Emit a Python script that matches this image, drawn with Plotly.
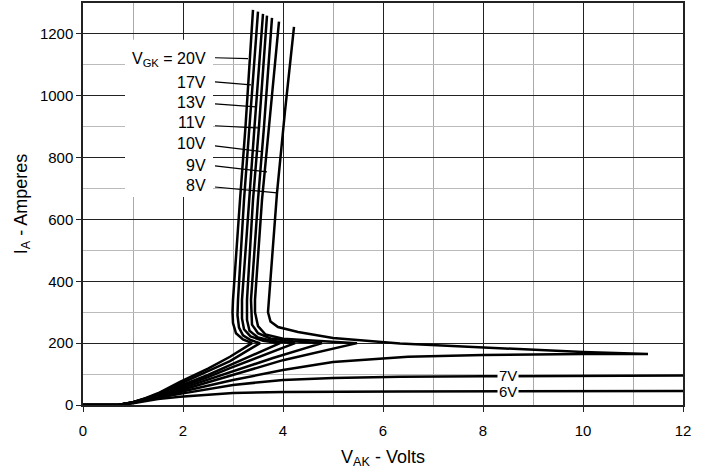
import plotly.graph_objects as go

# ---- data ----
v_20 = [0, 0.7, 1.0, 1.25, 1.5, 1.94, 2.5, 2.94, 3.38, 3.2, 3.06, 3.0, 2.99, 3.0, 3.14, 3.25, 3.4]
a_20 = [0, 0, 9, 22, 38, 75, 118, 156, 200, 212, 232, 265, 300, 340, 663, 900, 1278]

v_17 = [0, 0.7, 1.0, 1.25, 1.5, 1.94, 2.5, 2.94, 3.54, 3.35, 3.2, 3.12, 3.09, 3.1, 3.22, 3.33, 3.5]
a_17 = [0, 0, 9, 21, 36, 68, 108, 142, 200, 210, 225, 250, 290, 340, 663, 900, 1272]

v_13 = [0, 0.7, 1.0, 1.25, 1.5, 1.94, 2.5, 2.94, 3.5, 3.94, 3.6, 3.35, 3.22, 3.18, 3.18, 3.32, 3.43, 3.6]
a_13 = [0, 0, 9, 20, 34, 62, 97, 129, 170, 200, 208, 222, 245, 280, 340, 663, 900, 1265]

v_11 = [0, 0.7, 1.0, 1.25, 1.5, 1.94, 2.5, 2.94, 3.6, 4.24, 3.8, 3.5, 3.33, 3.28, 3.28, 3.4, 3.52, 3.68]
a_11 = [0, 0, 8, 19, 32, 57, 90, 119, 160, 200, 207, 218, 240, 275, 340, 663, 900, 1259]

v_10 = [0, 0.7, 1.0, 1.25, 1.5, 1.94, 2.5, 2.94, 3.8, 4.78, 4.2, 3.75, 3.5, 3.38, 3.36, 3.5, 3.62, 3.78]
a_10 = [0, 0, 8, 18, 30, 52, 82, 108, 152, 200, 206, 215, 232, 260, 340, 663, 900, 1252]

v_9 = [0, 0.7, 1.0, 1.25, 1.5, 1.94, 2.5, 2.94, 4.0, 5.48, 4.6, 4.0, 3.65, 3.5, 3.44, 3.44, 3.58, 3.72, 3.92]
a_9 = [0, 0, 8, 17, 28, 47, 73, 94, 145, 200, 207, 214, 228, 255, 300, 340, 663, 900, 1240]

v_8 = [0, 0.7, 1.0, 1.25, 1.5, 1.94, 3.0, 4.0, 5.0, 6.5, 8.0, 10.0, 11.3,
       10.0, 8.0, 6.34, 5.0, 4.3, 3.9, 3.75, 3.7, 3.72, 3.8, 3.88, 4.04, 4.22]
a_8 = [0, 0, 7, 16, 26, 42, 81, 113, 139, 156, 162, 165, 165,
       171, 185, 199, 217, 236, 252, 270, 300, 340, 500, 686, 950, 1223]

v_7 = [0, 0.7, 1.0, 1.25, 1.5, 1.94, 3.0, 4.0, 5.0, 6.34, 8.0, 12.0]
a_7 = [0, 0, 7, 15, 24, 36, 65, 81, 87, 91, 93, 95]

v_6 = [0, 0.7, 1.0, 1.25, 1.5, 1.94, 3.0, 4.0, 6.34, 12.0]
a_6 = [0, 0, 6, 13, 19, 27, 39, 42, 44, 45]

x_ticks = [0, 2, 4, 6, 8, 10, 12]
y_ticks = [0, 200, 400, 600, 800, 1000, 1200]

curves = [("20V", v_20, a_20), ("17V", v_17, a_17), ("13V", v_13, a_13),
          ("11V", v_11, a_11), ("10V", v_10, a_10), ("9V", v_9, a_9),
          ("8V", v_8, a_8), ("7V", v_7, a_7), ("6V", v_6, a_6)]

# label texts in the white box, with their leader lines (layout positions)
box_labels = ["V<sub>GK</sub> = 20V", "17V", "13V", "11V", "10V", "9V", "8V"]
box_label_y = [1116, 1042, 977, 912, 845, 773, 709]
leader_start = [(2.64, 1123), (2.64, 1045), (2.64, 974), (2.64, 903), (2.64, 838), (2.64, 773), (2.64, 705)]
leader_end = [(3.3, 1120), (3.36, 1035), (3.46, 964), (3.5, 896), (3.6, 819), (3.68, 754), (3.88, 686)]

FONT = "Liberation Sans, Arial, sans-serif"

fig = go.Figure()
for name, vx, ay in curves:
    fig.add_trace(go.Scatter(x=vx, y=ay, mode="lines", name=name,
                             line=dict(color="black", width=2.5),
                             showlegend=False, hoverinfo="skip"))

shapes = [dict(type="rect", xref="x", yref="y", x0=0.84, x1=2.6, y0=673, y1=1181,
               fillcolor="white", line=dict(width=0), layer="between")]
for (x0, y0), (x1, y1) in zip(leader_start, leader_end):
    shapes.append(dict(type="line", xref="x", yref="y", x0=x0, y0=y0, x1=x1, y1=y1,
                       line=dict(color="black", width=1.2)))

annotations = []
for txt, yy in zip(box_labels, box_label_y):
    annotations.append(dict(x=2.5, y=yy, xref="x", yref="y", text=txt, showarrow=False,
                            xanchor="right", yanchor="middle",
                            font=dict(family=FONT, size=16, color="black")))
annotations.append(dict(x=8.5, y=95, xref="x", yref="y", text="7V", showarrow=False,
                        bgcolor="white", borderpad=1,
                        font=dict(family=FONT, size=15, color="black")))
annotations.append(dict(x=8.5, y=45, xref="x", yref="y", text="6V", showarrow=False,
                        bgcolor="white", borderpad=1,
                        font=dict(family=FONT, size=15, color="black")))

fig.update_layout(
    width=709, height=476,
    margin=dict(l=83, r=26, t=3, b=71),
    paper_bgcolor="white", plot_bgcolor="white",
    font=dict(family=FONT, size=16, color="black"),
    shapes=shapes, annotations=annotations,
)
fig.update_xaxes(range=[0, 12], tickvals=x_ticks, ticktext=[str(t) for t in x_ticks],
                 automargin=False,
                 showline=True, linecolor="#222", linewidth=2, mirror=True,
                 ticks="outside", ticklen=5, tickcolor="#222", ticklabelstandoff=6,
                 showgrid=True, gridcolor="#222", gridwidth=1, zeroline=False,
                 minor=dict(dtick=1, showgrid=True, gridcolor="#aaaaaa", gridwidth=1),
                 title=dict(text="V<sub>AK</sub> - Volts", font=dict(size=18), standoff=12),
                 tickfont=dict(size=15))
fig.update_yaxes(range=[0, 1300], tickvals=y_ticks, ticktext=[str(t) for t in y_ticks],
                 automargin=False,
                 showline=True, linecolor="#222", linewidth=1.5, mirror=True,
                 ticks="outside", ticklen=5, tickcolor="#222",
                 showgrid=True, gridcolor="#222", gridwidth=1, zeroline=False,
                 minor=dict(dtick=100, showgrid=True, gridcolor="#bbbbbb", gridwidth=1),
                 title=dict(text="I<sub>A</sub> - Amperes", font=dict(size=18), standoff=8),
                 tickfont=dict(size=15))

fig.write_html("out.html", config={"displayModeBar": False},
               post_script="document.body.style.margin='0';document.body.style.overflow='hidden';")
